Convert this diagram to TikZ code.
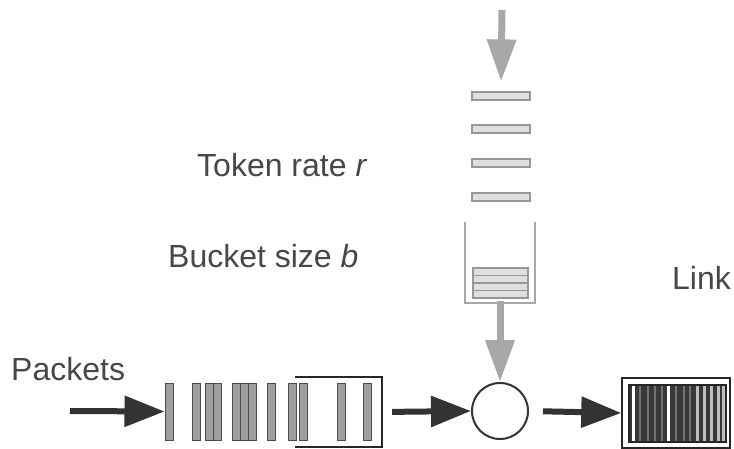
\documentclass[tikz,border=0pt]{standalone}
\usepackage{fontspec}
\setmainfont{Liberation Sans}
\usetikzlibrary{arrows.meta}
\definecolor{ink}{HTML}{333333}
\definecolor{txt}{HTML}{474747}
\definecolor{tokgray}{HTML}{A8A8A8}
\begin{document}
\begin{tikzpicture}[x=1pt,y=-1pt,
  label/.style={anchor=base west,inner sep=0pt,text=txt,font=\fontsize{32}{36}\selectfont},
  blackarrow/.style={draw=ink,line width=6pt,-{Triangle[length=40pt,width=30pt]}},
  grayarrow/.style={draw=tokgray,line width=7pt,-{Triangle[length=42pt,width=28pt]}},
  token/.style={draw=tokgray!90!black,fill=gray!25,line width=1.2pt,minimum width=58pt,minimum height=8pt,inner sep=0pt},
  pkt/.style={draw=black!70,fill=gray!75,line width=1pt,minimum width=8pt,minimum height=57pt,inner sep=0pt},
]
\useasboundingbox (0,0) rectangle (734,449);
\fill[white] (0,0) rectangle (734,449);

% labels
\node[label] (lrate) at (197,177) {Token rate \textit{r}};
\node[label] (lsize) at (168,268) {Bucket size \textit{b}};
\node[label] (lpkt) at (11,380) {Packets};
\node[label] (llink) at (672,290) {Link};

% token stream
\coordinate (src) at (502,10);
\node[token] (t1) at (501,96) {};
\node[token] (t2) at (501,129) {};
\node[token] (t3) at (501,163) {};
\node[token] (t4) at (501,197) {};
\draw[grayarrow,shorten >=10pt] (src) -- (t1.north);

% bucket
\node[minimum width=70pt,minimum height=81pt,inner sep=0pt] (bucket) at (500,262.5) {};
\draw[tokgray,line width=1.6pt] (bucket.north west) -- (bucket.south west) -- (bucket.south east) -- (bucket.north east);
\foreach \y in {268,275.5,283,290.5}
  \draw[tokgray!90!black,fill=gray!25,line width=1.2pt] (473,\y) rectangle (528,\y+7.5);

% server
\node[circle,draw=ink,line width=2pt,fill=white,minimum size=56pt,inner sep=0pt] (srv) at (500,411) {};
\draw[grayarrow] ([yshift=2pt]bucket.south) -- (srv.north);

% packet queue
\foreach \i/\x in {1/169,2/196,3/209,4/217,5/236.5,6/244,7/252,8/271.5,9/292,10/303,11/341,12/367.5}
  \node[pkt] (q\i) at (\x,411.5) {};
\node[minimum width=87pt,minimum height=70pt,inner sep=0pt] (qbox) at (338.5,412) {};
\draw[black!85,line width=1.8pt] (qbox.north west) -- (qbox.north east) -- (qbox.south east) -- (qbox.south west);
\coordinate (in) at (70,411);
\draw[blackarrow] (in) -- (q1.west);
\draw[blackarrow,shorten <=10pt] (qbox.east) -- (srv.west);

% output link
\node[draw=black!85,line width=1.5pt,minimum width=108pt,minimum height=70pt,inner sep=0pt] (link) at (676,413) {};
\fill[black!78] (629,385) rectangle (726,442);
\foreach \x in {640,648,655,662,676,684,690}
  \draw[black!55,line width=1.5pt] (\x,385) -- (\x,442);
\foreach \x in {633.5,668.5}
  \draw[white,line width=3pt] (\x,385) -- (\x,442);
\foreach \x in {697,704,711,718,723.5}
  \draw[black!25,line width=3pt] (\x,385) -- (\x,442);
\draw[black!85,line width=1.2pt] (629,385) rectangle (726,442);
\draw[blackarrow,shorten <=14pt] (srv.east) -- (link.west);
\end{tikzpicture}
\end{document}
